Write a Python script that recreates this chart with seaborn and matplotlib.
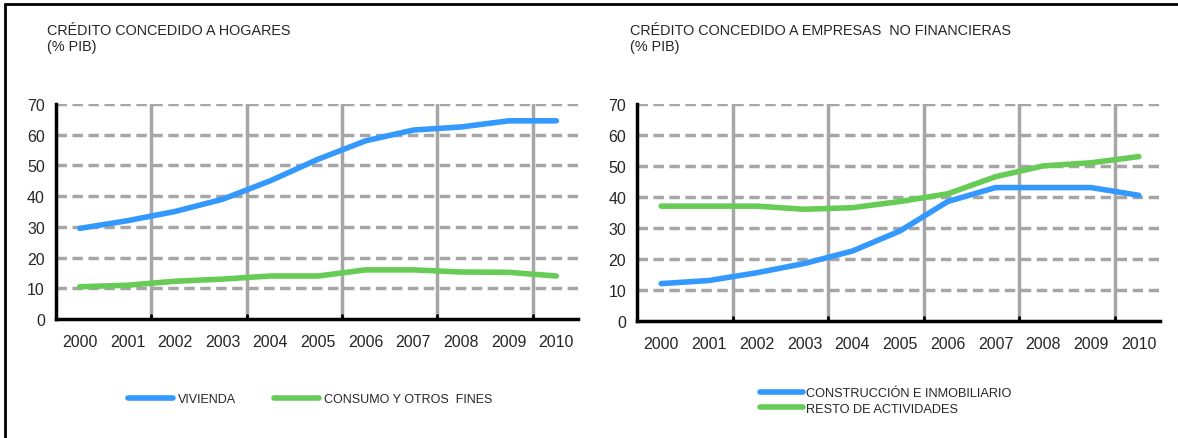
import numpy as np
import pandas as pd
import matplotlib
matplotlib.use("Agg")
import matplotlib.pyplot as plt
import seaborn as sns
from matplotlib.lines import Line2D

# Datos (% PIB)
anios = [2000, 2001, 2002, 2003, 2004, 2005, 2006, 2007, 2008, 2009, 2010]
vivienda = [29.5, 32, 35, 39, 45, 52, 58, 61.5, 62.5, 64.5, 64.5]
consumo = [10.5, 11, 12.3, 13, 14, 14, 16, 16, 15.3, 15.2, 14]
construccion = [12, 13, 15.5, 18.5, 22.5, 29, 38.5, 43, 43, 43, 40.5]
resto = [37, 37, 37, 36, 36.5, 38.5, 41, 46.5, 50, 51, 53]

azul = "#3399FF"
verde = "#66CC55"
gris = "#A6A6A6"

sns.set_style("white")
plt.rcParams["font.family"] = ["Liberation Sans", "DejaVu Sans"]

hogares = pd.DataFrame({"anio": anios * 2,
                        "valor": vivienda + consumo,
                        "serie": ["VIVIENDA"] * 11 + ["CONSUMO Y OTROS  FINES"] * 11})
empresas = pd.DataFrame({"anio": anios * 2,
                         "valor": construccion + resto,
                         "serie": ["CONSTRUCCIÓN E INMOBILIARIO"] * 11 + ["RESTO DE ACTIVIDADES"] * 11})

fig = plt.figure(figsize=(11.78, 4.39), dpi=100)
ax1 = fig.add_axes([0.0475, 0.271, 0.443, 0.490])
ax2 = fig.add_axes([0.541, 0.267, 0.444, 0.494])


def estilo(ax):
    ax.set_xlim(1999.5, 2010.45)
    ax.set_ylim(0, 70)
    ax.set_yticks(range(0, 71, 10))
    ax.set_xticks(anios)
    ax.set_xticklabels([str(a) for a in anios])
    for v in range(10, 71, 10):
        ax.axhline(v, color=gris, lw=2.5, ls=(0, (3, 1.6)), zorder=1)
    for x in [2001.5, 2003.5, 2005.5, 2007.5, 2009.5]:
        ax.axvline(x, color=gris, lw=2.5, zorder=1)
        ax.plot([x, x], [0, 1.3], color="black", lw=2, zorder=4, clip_on=False)
    for s in ["top", "right"]:
        ax.spines[s].set_visible(False)
    for s in ["left", "bottom"]:
        ax.spines[s].set_linewidth(2.5)
        ax.spines[s].set_color("black")
        ax.spines[s].set_zorder(5)
    ax.tick_params(axis="y", direction="in", length=4, width=2, labelsize=11.5, pad=8)
    ax.tick_params(axis="x", length=0, labelsize=11.5, pad=11)
    ax.set_xlabel("")
    ax.set_ylabel("")


sns.lineplot(data=hogares, x="anio", y="valor", hue="serie",
             palette=[azul, verde], lw=4, ax=ax1, legend=False, zorder=3)
sns.lineplot(data=empresas, x="anio", y="valor", hue="serie",
             palette=[azul, verde], lw=4, ax=ax2, legend=False, zorder=3)
estilo(ax1)
estilo(ax2)

fig.text(47 / 1178, 1 - 39 / 439, "CRÉDITO CONCEDIDO A HOGARES\n(% PIB)",
         fontsize=10.4, va="center", ha="left", linespacing=1.1)
fig.text(630 / 1178, 1 - 39 / 439, "CRÉDITO CONCEDIDO A EMPRESAS  NO FINANCIERAS\n(% PIB)",
         fontsize=10.4, va="center", ha="left", linespacing=1.1)

# leyendas
h_viv = Line2D([], [], color=azul, lw=4)
h_con = Line2D([], [], color=verde, lw=4)
fig.legend([h_viv, h_con], ["VIVIENDA", "CONSUMO Y OTROS  FINES"], ncol=2,
           loc="center left", bbox_to_anchor=(122 / 1178, 1 - 400 / 439),
           frameon=False, fontsize=9, handlelength=3.6, handletextpad=0.4,
           columnspacing=3.0, borderpad=0)
fig.legend([h_viv, h_con], ["CONSTRUCCIÓN E INMOBILIARIO", "RESTO DE ACTIVIDADES"], ncol=1,
           loc="center left", bbox_to_anchor=(754 / 1178, 1 - 402 / 439),
           frameon=False, fontsize=9.2, handlelength=3.3, handletextpad=0.3,
           labelspacing=0.3, borderpad=0)

# marco exterior
fig.add_artist(Line2D([5 / 1178, 5 / 1178], [0, 1 - 5 / 439], color="black", lw=2,
                      transform=fig.transFigure))
fig.add_artist(Line2D([5 / 1178, 1], [1 - 5 / 439, 1 - 5 / 439], color="black", lw=2,
                      transform=fig.transFigure))

fig.savefig("out.png", dpi=100)
